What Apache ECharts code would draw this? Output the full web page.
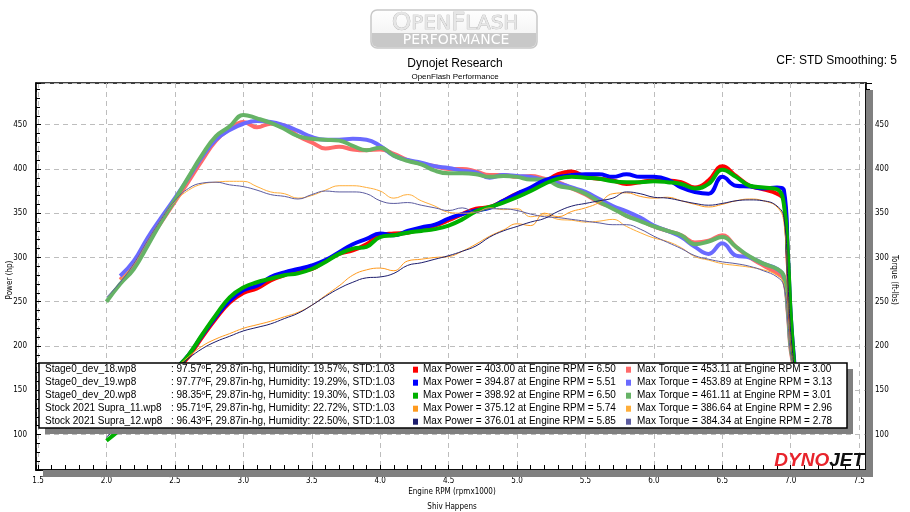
<!DOCTYPE html>
<html>
<head>
<meta charset="utf-8">
<script src="https://cdn.jsdelivr.net/npm/echarts@6/dist/echarts.min.js"></script>
<style>
  html, body { margin: 0; padding: 0; background: #fff; }
  #chart { width: 910px; height: 512px; }
</style>
</head>
<body>
<div id="chart"></div>
<script>
// engine rpm (x1000) sample points shared by all runs
var rpm = [2.0, 2.1, 2.2, 2.3, 2.4, 2.5, 2.6, 2.7, 2.8, 2.9,
  3.0, 3.1, 3.2, 3.3, 3.4, 3.5, 3.6, 3.7, 3.8, 3.9,
  4.0, 4.1, 4.2, 4.3, 4.4, 4.5, 4.6, 4.7, 4.8, 4.9,
  5.0, 5.1, 5.2, 5.3, 5.4, 5.5, 5.6, 5.7, 5.8, 5.9,
  6.0, 6.1, 6.2, 6.3, 6.4, 6.5, 6.6, 6.7, 6.8, 6.9,
  6.95, 6.98, 7.0, 7.03];

// power (hp)
var powerDev18 = [null, 108, 122, 140, 155, 171, 188, 210, 231, 249,
  260, 265, 274, 280, 285, 287, 296, 304, 308, 315,
  325, 327, 328, 332, 336, 342, 349, 355, 357, 364,
  372, 377, 385, 394, 397, 391, 389, 387, 383, 385,
  387, 387, 385, 379, 387, 403, 392, 381, 377, 372,
  365, 290, 225, 172];
var powerDev19 = [null, 110, 125, 142, 157, 173, 190, 212, 233, 251,
  263, 268, 278, 283, 287, 291, 297, 306, 315, 321,
  327, 325, 330, 334, 337, 344, 349, 353, 356, 364,
  372, 379, 387, 391, 393, 394, 394, 391, 394, 391,
  391, 388, 379, 374, 372, 391, 381, 380, 378, 379,
  376, 300, 235, 175];
var powerDev20 = [93, 106, 122, 139, 156, 173, 190, 213, 235, 255,
  266, 272, 276, 280, 282, 287, 295, 304, 310, 312,
  323, 325, 328, 330, 332, 336, 343, 352, 357, 362,
  368, 375, 383, 389, 391, 390, 389, 386, 385, 385,
  386, 385, 383, 378, 383, 399, 391, 381, 379, 377,
  360, 300, 235, 170];
var powerStock11 = [null, 112, 128, 144, 160, 174, 188, 200, 208, 214,
  220, 224, 228, 233, 238, 246, 257, 268, 280, 286,
  288, 285, 296, 298, 300, 301, 307, 315, 324, 331,
  338, 336, 350, 346, 352, 356, 362, 372, 373, 369,
  367, 368, 364, 360, 357, 360, 364, 366, 364, 357,
  340, 265, 210, 170];
var powerStock12 = [97, 112, 128, 144, 159, 173, 186, 197, 205, 211,
  217, 221, 225, 231, 237, 246, 256, 265, 272, 277,
  278, 282, 291, 294, 298, 302, 307, 313, 323, 330,
  335, 340, 344, 352, 358, 361, 364, 367, 374, 372,
  368, 367, 364, 361, 359, 361, 364, 365, 364, 358,
  345, 270, 215, 170];

// torque (ft-lbs)
var torqueDev18 = [null, 275, 292, 317, 340, 363, 386, 410, 432, 445,
  453, 447, 451, 449, 437, 430, 423, 425, 422, 421,
  422, 417, 410, 406, 403, 400, 400, 397, 393, 393,
  391, 392, 389, 385, 378, 371, 362, 356, 347, 342,
  335, 330, 325, 317, 319, 325, 312, 300, 291, 282,
  275, 235, 195, 172];
var torqueDev19 = [null, 279, 296, 322, 345, 367, 390, 414, 433, 444,
  451, 454, 453, 449, 443, 436, 433, 433, 434, 433,
  426, 415, 410, 407, 403, 401, 398, 396, 390, 393,
  392, 391, 387, 384, 379, 374, 366, 358, 352, 345,
  336, 330, 323, 312, 304, 316, 302, 300, 293, 287,
  278, 240, 200, 175];
var torqueDev20 = [250, 270, 287, 313, 340, 365, 391, 416, 437, 448,
  461, 457, 452, 445, 437, 434, 433, 432, 426, 421,
  424, 415, 409, 405, 398, 395, 395, 394, 391, 392,
  391, 388, 388, 381, 378, 372, 363, 355, 347, 341,
  335, 330, 325, 315, 318, 323, 312, 301, 293, 287,
  279, 238, 198, 172];
var torqueStock11 = [null, 275, 293, 319, 343, 363, 376, 383, 385, 386,
  386, 380, 374, 372, 367, 370, 376, 381, 381, 379,
  375, 367, 371, 364, 358, 351, 350, 351, 356, 354,
  355, 346, 348, 343, 342, 340, 341, 343, 335, 328,
  322, 318, 311, 301, 297, 293, 291, 289, 286, 280,
  270, 225, 190, 170];
var torqueStock12 = [255, 272, 293, 319, 343, 364, 378, 384, 385, 382,
  380, 376, 371, 369, 366, 371, 375, 374, 374, 372,
  364, 361, 362, 359, 356, 353, 356, 351, 355, 355,
  353, 349, 346, 345, 343, 341, 339, 337, 337, 332,
  324, 317, 310, 302, 298, 295, 293, 290, 285, 278,
  268, 225, 190, 170];

// legend texts
var runNames = ['Stage0_dev_18.wp8', 'Stage0_dev_19.wp8', 'Stage0_dev_20.wp8',
  'Stock 2021 Supra_11.wp8', 'Stock 2021 Supra_12.wp8'];
var runWeather = [
  ': 97.57\u00baF, 29.87in-hg, Humidity: 19.57%, STD:1.03',
  ': 97.77\u00baF, 29.87in-hg, Humidity: 19.29%, STD:1.03',
  ': 98.35\u00baF, 29.87in-hg, Humidity: 19.30%, STD:1.03',
  ': 95.71\u00baF, 29.87in-hg, Humidity: 22.72%, STD:1.03',
  ': 96.43\u00baF, 29.87in-hg, Humidity: 22.50%, STD:1.03'];
var maxPower = [[403.00, 6.50], [394.87, 5.51], [398.92, 6.50], [375.12, 5.74], [376.01, 5.85]];
var maxTorque = [[453.11, 3.00], [453.89, 3.13], [461.11, 3.01], [386.64, 2.96], [384.34, 2.78]];

var powerColors = ['#ff0000', '#0000ff', '#00b000', '#ff9a1e', '#1c1c6c'];
var torqueColors = ['#ff6a6a', '#6a6aff', '#66b366', '#ffae3a', '#5c5ca0'];

var chart = echarts.init(document.getElementById('chart'));

function pairs(vals) {
  return rpm.map(function (r, i) { return [r, vals[i]]; });
}

function line(name, vals, color, width, axis) {
  return {
    name: name,
    type: 'line',
    yAxisIndex: axis,
    data: pairs(vals),
    showSymbol: false,
    symbol: 'none',
    smooth: 0.45,
    lineStyle: { color: color, width: width },
    z: width > 2 ? 2 : 3
  };
}

var tickFont = 'DejaVu Sans Condensed, Liberation Sans Narrow, sans-serif';
var textFont = 'Liberation Sans, Arial, sans-serif';

// plot frame: x 36..866, y 83..470, with a grey drop shadow
var legendEls = [
  { type: 'rect', z: 1, shape: { x: 866, y: 90, width: 7, height: 387 }, style: { fill: '#808080' } },
  { type: 'rect', z: 1, shape: { x: 43, y: 470, width: 830, height: 7 }, style: { fill: '#808080' } }
];
var boxX = 39, boxY = 363, boxW = 808, boxH = 65;
legendEls.push({ type: 'rect', z: 50, shape: { x: boxX + 6, y: boxY + 6, width: boxW, height: boxH }, style: { fill: '#808080' } });
legendEls.push({ type: 'rect', z: 51, shape: { x: boxX, y: boxY, width: boxW, height: boxH }, style: { fill: '#fff', stroke: '#000', lineWidth: 1.5 } });
runNames.forEach(function (n, i) {
  var cy = 369.7 + i * 13;
  var ts = { fontSize: 10, fontFamily: textFont, fill: '#000', textVerticalAlign: 'middle' };
  legendEls.push({ type: 'text', z: 52, x: 45, y: cy, style: Object.assign({ text: n }, ts) });
  legendEls.push({ type: 'text', z: 52, x: 171, y: cy, style: Object.assign({ text: runWeather[i] }, ts) });
  legendEls.push({ type: 'rect', z: 52, shape: { x: 413, y: cy - 3, width: 5, height: 6 }, style: { fill: powerColors[i] } });
  legendEls.push({ type: 'text', z: 52, x: 423, y: cy, style: Object.assign({
    text: 'Max Power = ' + maxPower[i][0].toFixed(2) + ' at Engine RPM = ' + maxPower[i][1].toFixed(2) }, ts) });
  legendEls.push({ type: 'rect', z: 52, shape: { x: 626, y: cy - 3, width: 5, height: 6 }, style: { fill: torqueColors[i] } });
  legendEls.push({ type: 'text', z: 52, x: 637, y: cy, style: Object.assign({
    text: 'Max Torque = ' + maxTorque[i][0].toFixed(2) + ' at Engine RPM = ' + maxTorque[i][1].toFixed(2) }, ts) });
});

var logoEls = [
  { type: 'rect', z: 5, shape: { x: 371, y: 10, width: 166, height: 38, r: 6 },
    style: { fill: new echarts.graphic.LinearGradient(0, 0, 0, 1, [{ offset: 0, color: '#ffffff' }, { offset: 1, color: '#eeeeee' }]), stroke: '#c8c8c8', lineWidth: 1.5 } },
  { type: 'rect', z: 6, shape: { x: 372, y: 33, width: 164, height: 14, r: [0, 0, 5, 5] }, style: { fill: '#c8c8c8' } },
  { type: 'text', z: 7, x: 455, y: 23.5, style: {
    text: '{a|O}{b|PEN}{a|F}{b|LASH}', textAlign: 'center', textVerticalAlign: 'middle',
    rich: {
      a: { fontSize: 25, fontFamily: 'DejaVu Sans', fill: '#e6e6e6', stroke: '#b0b0b0', lineWidth: 0.7 },
      b: { fontSize: 20, fontFamily: 'DejaVu Sans', fill: '#e6e6e6', stroke: '#b0b0b0', lineWidth: 0.7 }
    } } },
  { type: 'text', z: 7, x: 456, y: 40.5, style: { text: 'PERFORMANCE', fontSize: 14, fontFamily: 'DejaVu Sans', fill: '#ffffff', textAlign: 'center', textVerticalAlign: 'middle' } }
];

var nameStyle = { fontSize: 8, fontFamily: tickFont, fill: '#000', textAlign: 'center', textVerticalAlign: 'middle' };
var axisNameEls = [
  { type: 'text', x: 10, y: 280, rotation: Math.PI / 2, style: Object.assign({ text: 'Power (hp)' }, nameStyle) },
  { type: 'text', x: 894, y: 280, rotation: -Math.PI / 2, style: Object.assign({ text: 'Torque (ft-lbs)' }, nameStyle) },
  { type: 'text', x: 452, y: 492, style: Object.assign({ text: 'Engine RPM (rpmx1000)' }, nameStyle) },
  { type: 'text', x: 452, y: 507, style: Object.assign({ text: 'Shiv Happens' }, nameStyle) }
];

var option = {
  animation: false,
  backgroundColor: '#fff',
  title: {
    text: 'Dynojet Research',
    subtext: 'OpenFlash Performance',
    left: 'center',
    top: 53,
    itemGap: 3,
    textStyle: { fontSize: 12, fontWeight: 'normal', color: '#000', fontFamily: textFont },
    subtextStyle: { fontSize: 8, color: '#000', fontFamily: textFont }
  },
  grid: {
    left: 36, right: 44, top: 83, bottom: 42,
    containLabel: false,
    outerBoundsMode: 'none',
    show: true,
    backgroundColor: '#fff',
    borderColor: '#000',
    borderWidth: 1.5
  },
  xAxis: {
    type: 'value',
    min: 1.485, max: 7.55,
    splitNumber: 12,
    axisLine: { lineStyle: { color: '#000', width: 1.5 } },
    axisTick: { inside: true, length: 5, lineStyle: { color: '#000' } },
    minorTick: { show: true, splitNumber: 5, length: 5, lineStyle: { color: '#000' } },
    axisLabel: { fontSize: 8, fontFamily: tickFont, color: '#000', margin: 7, showMinLabel: false, showMaxLabel: false,
      formatter: function (v) { return v.toFixed(1); } },
    splitLine: { show: true, lineStyle: { color: '#bdbdbd', type: [5, 4] } }
  },
  yAxis: [{
    type: 'value',
    position: 'left',
    min: 60, max: 497,
    splitNumber: 9,
    axisLine: { show: true, lineStyle: { color: '#000', width: 1.5 } },
    axisTick: { show: true, inside: true, length: 5, lineStyle: { color: '#000' } },
    minorTick: { show: true, splitNumber: 5, length: 4, lineStyle: { color: '#000' } },
    axisLabel: { fontSize: 8, fontFamily: tickFont, color: '#000', margin: 9, showMinLabel: false, showMaxLabel: false },
    splitLine: { show: true, lineStyle: { color: '#bdbdbd', type: [5, 4] } }
  }, {
    type: 'value',
    position: 'right',
    min: 60, max: 497,
    splitNumber: 9,
    axisLine: { show: true, lineStyle: { color: '#000', width: 1.5 } },
    axisTick: { show: true, inside: false, length: 6, lineStyle: { color: '#000' } },
    minorTick: { show: true, splitNumber: 5, length: 4, lineStyle: { color: '#000' } },
    axisLabel: { fontSize: 8, fontFamily: tickFont, color: '#000', margin: 9, showMinLabel: false, showMaxLabel: false },
    splitLine: { show: false }
  }],
  graphic: logoEls.concat(axisNameEls).concat([
    { type: 'text', x: 897, y: 61, style: { text: 'CF: STD Smoothing: 5', fontSize: 12, fontFamily: textFont, fill: '#000', textAlign: 'right', textVerticalAlign: 'middle' } },
    { type: 'text', z: 40, x: 864, y: 461, style: {
      text: '{r|DYNO}{k|JET}', textAlign: 'right', textVerticalAlign: 'middle',
      rich: {
        r: { fontSize: 19, fontWeight: 'bold', fontStyle: 'italic', fontFamily: textFont, fill: '#e8242c' },
        k: { fontSize: 19, fontWeight: 'bold', fontStyle: 'italic', fontFamily: textFont, fill: '#111' }
      } } }
  ]).concat(legendEls),
  series: [
    line('Stage0_dev_18 torque', torqueDev18, torqueColors[0], 4, 1),
    line('Stage0_dev_19 torque', torqueDev19, torqueColors[1], 4, 1),
    line('Stage0_dev_20 torque', torqueDev20, torqueColors[2], 4, 1),
    line('Stage0_dev_18 power', powerDev18, powerColors[0], 4, 0),
    line('Stage0_dev_19 power', powerDev19, powerColors[1], 4, 0),
    line('Stage0_dev_20 power', powerDev20, powerColors[2], 4, 0),
    line('Stock 2021 Supra_11 torque', torqueStock11, torqueColors[3], 1, 1),
    line('Stock 2021 Supra_12 torque', torqueStock12, torqueColors[4], 1, 1),
    line('Stock 2021 Supra_11 power', powerStock11, powerColors[3], 1, 0),
    line('Stock 2021 Supra_12 power', powerStock12, powerColors[4], 1, 0)
  ]
};

chart.setOption(option);
</script>
</body>
</html>
